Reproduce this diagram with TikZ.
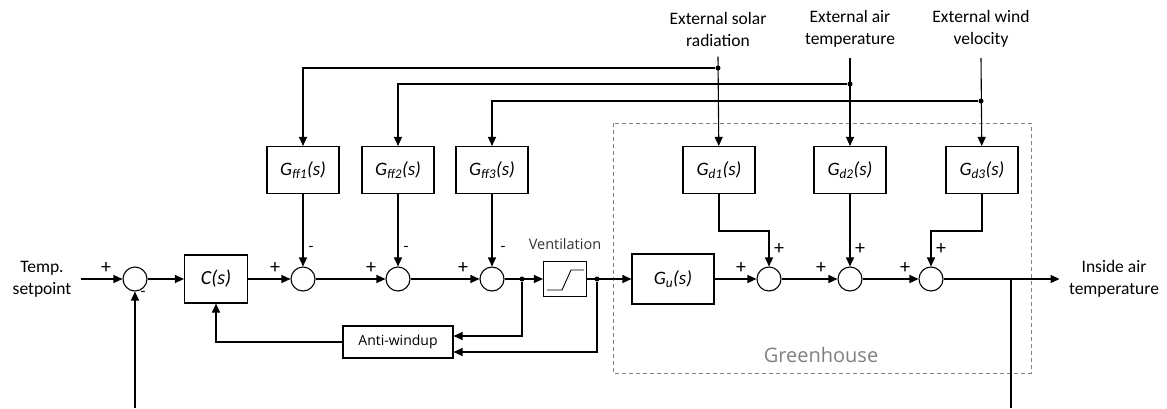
\documentclass[tikz,border=0pt]{standalone}
\usepackage{fontspec}
\setmainfont{Carlito}
\newfontfamily\uifont{Open Sans}
\usetikzlibrary{arrows.meta,calc,positioning}

\begin{document}
\begin{tikzpicture}[x=1pt,y=-1pt,>={Triangle[length=9pt,width=8pt]},line width=1.1pt,
  font=\fontsize{17.5}{22}\selectfont,
  block/.style={draw,fill=white,minimum width=72pt,minimum height=47pt,inner sep=0pt,font=\fontsize{19}{20}\selectfont\itshape},
  sumnode/.style={draw,circle,minimum size=24pt,inner sep=0pt},
  jdot/.style={circle,fill,inner sep=0pt,minimum size=5pt},
  txt/.style={align=center,inner sep=1pt},
  sgn/.style={font=\fontsize{20}{20}\selectfont,inner sep=0pt},
  msgn/.style={font=\fontsize{16}{16}\selectfont,inner sep=0pt},
  uitxt/.style={font=\uifont\fontsize{14.5}{16}\selectfont,text=black!80}]
\useasboundingbox (0,0) rectangle (1167,408);
% greenhouse frame
\draw[gray,line width=0.8pt,dash pattern=on 4pt off 3pt] (613,123) rectangle (1031,373);
\node[uitxt,font=\uifont\fontsize{20}{22}\selectfont,text=gray] (gh) at (821,355) {Greenhouse};
% texts
\node[txt] (tsp) at (42,279) {Temp.\\setpoint};
\node[txt] (yout) at (1114,279) {Inside air\\temperature};
\node[txt] (solar) at (718,29) {External solar\\radiation};
\node[txt] (airt) at (850,29) {External air\\temperature};
\node[txt] (wind) at (981,29) {External wind\\velocity};
% blocks
\node[sumnode] (sum1) at (135,279) {};
\node[block,minimum width=63pt,minimum height=48pt,font=\fontsize{20}{22}\selectfont\itshape] (cs) at (216,279) {C(s)};
\node[sumnode] (sum2) at (303,279) {};
\node[sumnode] (sum3) at (398,279) {};
\node[sumnode] (sum4) at (492,279) {};
\node[block,minimum width=43pt,minimum height=35pt] (sat) at (565,279) {};
\node[uitxt] (vent) at (565,244) {Ventilation};
\node[block,minimum width=82pt,minimum height=50pt,font=\fontsize{19}{20}\selectfont\itshape] (gu) at (673,279) {G\textsubscript{u}(s)};
\node[sumnode] (sum5) at (769,279) {};
\node[sumnode] (sum6) at (850,279) {};
\node[sumnode] (sum7) at (931,279) {};
\node[block,minimum width=110pt,minimum height=32pt,font=\uifont\fontsize{14}{16}\selectfont] (aw) at (398,342) {Anti-windup};
\node[block] (gff1) at (303,170) {G\textsubscript{ff1}(s)};
\node[block] (gff2) at (398,170) {G\textsubscript{ff2}(s)};
\node[block] (gff3) at (492,170) {G\textsubscript{ff3}(s)};
\node[block] (gd1) at (719,170) {G\textsubscript{d1}(s)};
\node[block] (gd2) at (850,170) {G\textsubscript{d2}(s)};
\node[block] (gd3) at (982,170) {G\textsubscript{d3}(s)};
% saturation curve
\draw[line width=0.9pt] ($(sat)+(-18,11)$) -- ++(15,0) -- ++(9,-20) -- ++(13,0);
% junctions
\node[jdot] (j1) at (718,68) {};
\node[jdot] (j2) at (850,84) {};
\node[jdot] (j3) at (981,101) {};
\node[jdot] (j4) at (522,279) {};
\node[jdot] (j5) at (597,279) {};
\coordinate (ytap) at (1011,279);
% main path
\draw[->] (tsp.east) ++(8,0) -- (sum1);
\draw[->] (sum1) -- (cs);
\draw[->] (cs) -- (sum2);
\draw[->] (sum2) -- (sum3);
\draw[->] (sum3) -- (sum4);
\draw[->] (sum4) -- (sat);
\draw[->] (sat) -- (gu);
\draw[->] (gu) -- (sum5);
\draw[->] (sum5) -- (sum6);
\draw[->] (sum6) -- (sum7);
\draw[->] (sum7) -- ($(yout.west)+(-8,0)$);
% feedback and anti-windup
\draw (ytap) -- (ytap |- 0,408);
\draw[->] (sum1 |- 0,408) -- (sum1);
\draw[->] (j4) |- (aw.east |- 0,336);
\draw[->] (j5) |- (aw.east |- 0,352);
\draw[->] (aw.west) -| (cs.south);
% disturbances
\draw[->] (solar.south) ++(0,9) -- (gd1);
\draw[->] (airt.south) ++(0,9) -- (gd2);
\draw[->] (wind.south) ++(0,9) -- (gd3);
\draw[->] (j1) -| (gff1);
\draw[->] (j2) -| (gff2);
\draw[->] (j3) -| (gff3);
\draw[->] (gff1) -- (sum2);
\draw[->] (gff2) -- (sum3);
\draw[->] (gff3) -- (sum4);
\draw[->] (gd1) |- (sum5 |- 0,231) -- (sum5);
\draw[->] (gd2) -- (sum6);
\draw[->] (gd3) |- (sum7 |- 0,231) -- (sum7);
% signs
\node[sgn] at ($(sum1)+(-29,-11)$) {+};
\node[msgn] at ($(sum1)+(8,15)$) {-};
\node[sgn] at ($(sum2)+(-28,-11)$) {+};
\node[msgn] at ($(sum2)+(8,-30)$) {-};
\node[sgn] at ($(sum3)+(-27,-11)$) {+};
\node[msgn] at ($(sum3)+(8,-30)$) {-};
\node[sgn] at ($(sum4)+(-29,-11)$) {+};
\node[msgn] at ($(sum4)+(11,-30)$) {-};
\node[sgn] at ($(sum5)+(-28,-11)$) {+};
\node[sgn] at ($(sum5)+(10,-30)$) {+};
\node[sgn] at ($(sum6)+(-29,-11)$) {+};
\node[sgn] at ($(sum6)+(10,-30)$) {+};
\node[sgn] at ($(sum7)+(-26,-11)$) {+};
\node[sgn] at ($(sum7)+(10,-30)$) {+};
\end{tikzpicture}
\end{document}
